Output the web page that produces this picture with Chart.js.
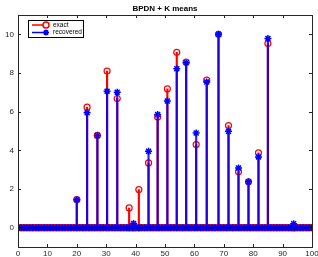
<!DOCTYPE html>
<html>
<head>
<meta charset="utf-8">
<script src="https://cdn.jsdelivr.net/npm/chart.js@4"></script>
<style>
  html, body { margin: 0; padding: 0; background: #fff; }
  #wrap { width: 318px; height: 257px; }
</style>
</head>
<body>
<div id="wrap"><canvas id="stemChart" width="318" height="257"></canvas></div>
<script>
// posiciones de la malla (linea base) y de los picos
const baseX = [0,1,2,3,4,5,6,7,8,9,10,11,12,13,14,15,16,17,18,19,20,21,22,23,24,25,26,27,28,29,30,31,32,33,34,35,36,37,38,39,40,41,42,43,44,45,46,47,48,49,50,51,52,53,54,55,56,57,58,59,60,61,62,63,64,65,66,67,68,69,70,71,72,73,74,75,76,77,78,79,80,81,82,83,84,85,86,87,88,89,90,91,92,93,94,95,96,97,98,99,100];
const stemX = [20, 23.5, 27, 30.3, 33.75, 37.8, 39.3, 41.1, 44.4, 47.5, 50.8, 54, 57.2, 60.6, 64.2, 68.2, 71.6, 75, 78.4, 81.8, 85, 93.75];
const exactVals = [1.45, 6.23, 4.77, 8.1, 6.68, 1.02, 0, 1.97, 3.35, 5.73, 7.18, 9.07, 8.57, 4.3, 7.63, 10.0, 5.28, 2.89, 2.37, 3.87, 9.52, 0];
const recoveredVals = [1.45, 5.94, 4.77, 7.06, 7.01, 0, 0.22, 0, 3.95, 5.85, 6.55, 8.22, 8.53, 4.9, 7.53, 10.0, 4.99, 3.09, 2.37, 3.66, 9.79, 0.2];
const xTicks = [0, 10, 20, 30, 40, 50, 60, 70, 80, 90, 100];
const yTicks = [0, 2, 4, 6, 8, 10];
const titleText = 'BPDN + K means';
const legendLabels = ['exact', 'recovered'];

const RED = '#ff0000';
const BLUE = '#0000ff';
const AXIS = '#262626';
const FONT = '"Liberation Sans", Arial, sans-serif';

const pts = (xs, ys) => xs.map((x, i) => ({ x, y: ys[i] }));
const zeros = baseX.map(x => ({ x, y: 0 }));

// titulo, caja, marcas hacia dentro y leyenda estilo MATLAB
const matlabDecor = {
  id: 'matlabDecor',
  afterDraw(chart) {
    const { ctx, chartArea: a, scales } = chart;
    ctx.save();
    ctx.strokeStyle = AXIS;
    ctx.lineWidth = 1;
    ctx.strokeRect(Math.round(a.left) + 0.5, Math.round(a.top) + 0.5,
      Math.round(a.right - a.left), Math.round(a.bottom - a.top));
    const tl = 3;
    ctx.beginPath();
    xTicks.forEach(v => {
      const px = Math.round(scales.x.getPixelForValue(v)) + 0.5;
      ctx.moveTo(px, a.bottom); ctx.lineTo(px, a.bottom - tl);
      ctx.moveTo(px, a.top); ctx.lineTo(px, a.top + tl);
    });
    yTicks.forEach(v => {
      const py = Math.round(scales.y.getPixelForValue(v)) + 0.5;
      ctx.moveTo(a.left, py); ctx.lineTo(a.left + tl, py);
      ctx.moveTo(a.right, py); ctx.lineTo(a.right - tl, py);
    });
    ctx.stroke();

    // titulo
    ctx.fillStyle = '#000';
    ctx.font = 'bold 8px ' + FONT;
    ctx.textAlign = 'center';
    ctx.textBaseline = 'middle';
    ctx.fillText(titleText, (a.left + a.right) / 2, 9);

    // leyenda
    const bx = 28.5, by = 20.5, bw = 55, bh = 17;
    ctx.fillStyle = '#fff';
    ctx.fillRect(bx, by, bw, bh);
    ctx.strokeStyle = '#000';
    ctx.strokeRect(bx, by, bw, bh);
    const colors = [RED, BLUE];
    const styles = ['circle', 'star'];
    legendLabels.forEach((lbl, i) => {
      const y = by + 4.5 + i * 7.5;
      ctx.strokeStyle = colors[i];
      ctx.lineWidth = 1.5;
      ctx.beginPath();
      ctx.moveTo(32, y); ctx.lineTo(47, y);
      ctx.stroke();
      Chart.helpers.drawPoint(ctx, {
        pointStyle: styles[i], radius: 3, borderWidth: 1.2
      }, 46, y);
      ctx.fillStyle = '#000';
      ctx.font = '6.5px ' + FONT;
      ctx.textAlign = 'left';
      ctx.textBaseline = 'middle';
      ctx.fillText(lbl, 53, y);
    });
    ctx.restore();
  }
};

new Chart(document.getElementById('stemChart'), {
  type: 'scatter',
  data: {
    datasets: [
      // linea base negra
      {
        type: 'line', data: [{ x: 0, y: 0 }, { x: 100, y: 0 }],
        borderColor: '#000', borderWidth: 1, pointRadius: 0, order: 1
      },
      // marcadores recuperados
      {
        data: pts(stemX, recoveredVals).concat(zeros),
        pointStyle: 'star', radius: 3.5, borderColor: BLUE, borderWidth: 1.5,
        backgroundColor: BLUE, order: 2
      },
      // tallos recuperados
      {
        type: 'bar', data: pts(stemX, recoveredVals),
        backgroundColor: 'rgba(0,0,255,0.85)', barThickness: 1.5, grouped: false, order: 3
      },
      // marcadores exactos
      {
        data: pts(stemX, exactVals).concat(zeros),
        pointStyle: 'circle', radius: 3, borderColor: RED, borderWidth: 1.2,
        backgroundColor: 'rgba(0,0,0,0)', order: 4
      },
      // tallos exactos
      {
        type: 'bar', data: pts(stemX, exactVals),
        backgroundColor: RED, barThickness: 1.5, grouped: false, order: 5
      }
    ]
  },
  options: {
    responsive: false,
    animation: false,
    events: [],
    layout: { padding: { top: 15, right: 6, left: 0, bottom: 0 } },
    plugins: { legend: { display: false }, title: { display: false }, tooltip: { enabled: false } },
    scales: {
      x: {
        type: 'linear', min: 0, max: 100, offset: false,
        grid: { display: false, drawTicks: false },
        border: { display: false },
        afterBuildTicks: s => { s.ticks = xTicks.map(v => ({ value: v })); },
        afterFit: s => { s.height = 10; s.paddingLeft = 0; s.paddingRight = 0; },
        ticks: { padding: 2, maxRotation: 0, color: AXIS, font: { size: 8, family: FONT } }
      },
      y: {
        min: -1, max: 11,
        grid: { display: false, drawTicks: false },
        border: { display: false },
        afterBuildTicks: s => { s.ticks = yTicks.map(v => ({ value: v })); },
        afterFit: s => { s.width = 18; s.paddingTop = 0; s.paddingBottom = 0; },
        ticks: { padding: 4, color: AXIS, font: { size: 8, family: FONT } }
      }
    }
  },
  plugins: [matlabDecor]
});
</script>
</body>
</html>
